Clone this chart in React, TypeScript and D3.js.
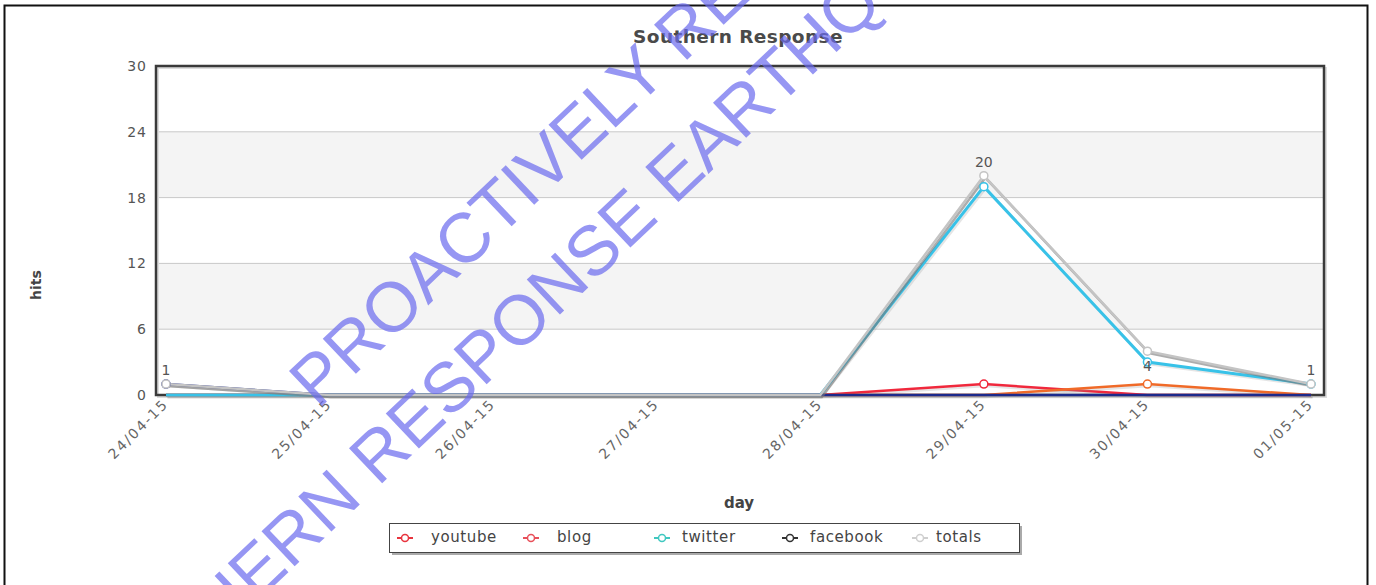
import React from "react";
import * as d3 from "d3";

const days = ["24/04-15", "25/04-15", "26/04-15", "27/04-15", "28/04-15", "29/04-15", "30/04-15", "01/05-15"];
const youtube = [0, 0, 0, 0, 0, 1, 0, 0];
const blog = [0, 0, 0, 0, 0, 0, 1, 0];
const twitter = [0, 0, 0, 0, 0, 19, 3, 1];
const facebook = [1, 0, 0, 0, 0, 0, 0, 0];
const totals = [1, 0, 0, 0, 0, 20, 4, 1];
const yTicks = [0, 6, 12, 18, 24, 30];
const seriesNames = ["youtube", "blog", "twitter", "facebook", "totals"];
const seriesColors = ["#f0283c", "#f06a28", "#38c2e8", "#1c2a8c", "#c4c4c4"];
const legendColors = ["#e8343e", "#e8505a", "#40c8c0", "#333333", "#cfcfcf"];
const labelsBelow = ["30/04-15"];
const watermark = ["PROACTIVELY RELEASED BY", "SOUTHERN RESPONSE EARTHQUAKE SERVICES"];

const W = 1376, H = 585;
const plot = { l: 156, r: 1324, t: 66, b: 395 };

export default function App() {
  const x = d3.scalePoint<string>().domain(days).range([166, 1311]);
  const y = d3.scaleLinear().domain([0, 30]).range([plot.b, plot.t]);
  const all = [youtube, blog, twitter, facebook, totals];
  const line = d3.line<number>().x((_, i) => x(days[i]) as number).y((v) => y(v));
  const bands = [[6, 12], [18, 24]];
  const font = "'DejaVu Sans', Verdana, sans-serif";
  const legendX = [405, 531, 662, 790, 920];

  return (
    <svg width={W} height={H} style={{ position: "absolute", left: 0, top: 0 }}>
      <rect x={0} y={0} width={W} height={H} fill="#fff" />
      <rect x={4.5} y={5.5} width={1363} height={600} fill="none" stroke="#111" strokeWidth={2} />
      <text x={738} y={43} textAnchor="middle" fontFamily={font} fontWeight="bold" fontSize={18.5} letterSpacing={0.4} fill="#4a4a4a">Southern Response</text>

      {bands.map(([a, b], i) => (
        <rect key={i} x={plot.l} y={y(b)} width={plot.r - plot.l} height={y(a) - y(b)} fill="#f4f4f4" />
      ))}
      {yTicks.slice(1, -1).map((t) => (
        <line key={t} x1={plot.l} x2={plot.r} y1={y(t)} y2={y(t)} stroke="#c8c8c8" strokeWidth={1} />
      ))}
      {yTicks.map((t) => (
        <text key={t} x={147} y={y(t) + 5} textAnchor="end" fontFamily={font} fontSize={14} letterSpacing={1} fill="#555">{t}</text>
      ))}
      {days.map((d) => (
        <text key={d} transform={`translate(${(x(d) as number) + 3},${plot.b + 10}) rotate(-45)`} textAnchor="end" fontFamily={font} fontSize={14} letterSpacing={1.8} fill="#666">{d}</text>
      ))}
      <text x={739} y={508} textAnchor="middle" fontFamily={font} fontWeight="bold" fontSize={15} fill="#444">day</text>
      <text transform={`translate(41,285) rotate(-90)`} textAnchor="middle" fontFamily={font} fontWeight="bold" fontSize={14} fill="#444">hits</text>

      {/* plot border with shadow */}
      <rect x={plot.l + 2} y={plot.t + 2} width={plot.r - plot.l} height={plot.b - plot.t} fill="none" stroke="#ddd" strokeWidth={2} />
      <rect x={plot.l} y={plot.t} width={plot.r - plot.l} height={plot.b - plot.t} fill="none" stroke="#3a3a3a" strokeWidth={2.5} />

      {all.map((s, k) => (
        <g key={k}>
          <path d={line(s) as string} fill="none" stroke={k === 4 ? "#777" : "#999"} strokeOpacity={k === 4 ? 0.6 : 0.25} strokeWidth={2.5} transform="translate(1.5,2)" />
          <path d={line(s) as string} fill="none" stroke={seriesColors[k]} strokeWidth={k === 2 ? 3 : 2.5} />
        </g>
      ))}
      {all.map((s, k) => (
        <g key={"m" + k}>
          {s.map((v, i) => (v > 0 ? (
            <circle key={i} cx={x(days[i]) as number} cy={y(v)} r={4} fill="#fff" stroke={seriesColors[k]} strokeWidth={1.5} />
          ) : null))}
        </g>
      ))}
      {totals.map((v, i) => (v > 0 ? (
        <text key={i} x={x(days[i]) as number} y={labelsBelow.includes(days[i]) ? y(v) + 20 : y(v) - 9} textAnchor="middle" fontFamily={font} fontSize={14} fill="#555">{v}</text>
      ) : null))}

      {/* legend */}
      <rect x={392} y={526} width={630} height={29} fill="#aaa" />
      <rect x={389.5} y={523.5} width={630} height={29} fill="#fff" stroke="#444" strokeWidth={1} />
      {seriesNames.map((n, i) => (
        <g key={n}>
          <line x1={legendX[i] - 8} x2={legendX[i] + 8} y1={538} y2={538} stroke={legendColors[i]} strokeWidth={2} />
          <circle cx={legendX[i]} cy={538} r={3.5} fill="#fff" stroke={legendColors[i]} strokeWidth={1.5} />
          <text x={legendX[i] + (i === 2 || i === 3 ? 20 : i === 4 ? 16 : 26)} y={542} fontFamily={font} fontSize={15} letterSpacing={0.6} fill="#444">{n}</text>
        </g>
      ))}

      {/* watermark */}
      <g fill="#6a6aee" fillOpacity={0.7} fontFamily="'Liberation Sans', Arial, sans-serif" fontSize={70}>
        <text transform="translate(318,410) rotate(-43.5)">{watermark[0]}</text>
        <text transform="translate(79,771) rotate(-43.5)">{watermark[1]}</text>
      </g>
    </svg>
  );
}
